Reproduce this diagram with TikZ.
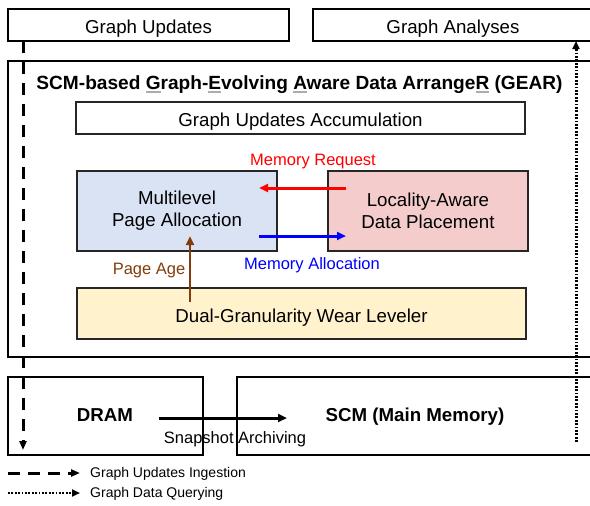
\documentclass[tikz,border=0pt]{standalone}
\usepackage{fontspec}
\setmainfont{Liberation Sans}
\usetikzlibrary{arrows.meta,calc}

\definecolor{mpafill}{HTML}{DAE3F3}
\definecolor{ladfill}{HTML}{F4CCCC}
\definecolor{dgwfill}{HTML}{FFF2CC}
\definecolor{agebrown}{HTML}{843C0C}

% font sizes
\newcommand\boxtext{\fontsize{18.7}{22}\selectfont}
\newcommand\titletext{\fontsize{19.1}{22}\selectfont\bfseries}
\newcommand\lbltext{\fontsize{16.5}{19}\selectfont}
\newcommand\legtext{\fontsize{14}{16}\selectfont}
% grey underline under an initial letter of the acronym
\newcommand\gearul[1]{{\setbox0\hbox{#1}\rlap{\color{gray!65}\rule[-4pt]{\wd0}{1.8pt}}#1}}

\tikzset{
  box/.style={draw=black!85, line width=1.3pt, inner sep=0pt, outer sep=0pt,
              align=center, font=\boxtext, text height=17pt, text depth=0pt},
  twoline/.style={text height=, text depth=},
  frame/.style={box, draw=black, line width=1.8pt},
  bigframe/.style={box, draw=black, line width=2.4pt},
  tip/.style={-{Triangle[length=9pt,width=8pt]}},
  flow/.style={tip, line width=3pt},
  ingest/.style={-{Triangle[length=9pt,width=7pt]}, line width=3pt,
                 dash pattern=on 12pt off 9pt},
  query/.style={-{Triangle[length=8pt,width=7pt]}, line width=3pt,
                dash pattern=on 1.8pt off 1.6pt},
}

\begin{document}
\begin{tikzpicture}[x=1pt,y=-1pt]
\useasboundingbox (0,0) rectangle (590,506);
\clip (0,0) rectangle (590,506);

% top row
\node[frame, minimum width=281pt, minimum height=32pt] (gu) at (148.5,25) {Graph Updates};
\node[frame, minimum width=280pt, minimum height=32pt] (ga) at (453,25) {Graph Analyses};

% GEAR frame
\node[bigframe, minimum width=584pt, minimum height=296pt] (gear) at (300,209) {};
\node[font=\titletext, anchor=base, inner sep=0pt] (title) at (299.5,89)
  {SCM-based \gearul{G}raph-\gearul{E}volving \gearul{A}ware Data Arrange\gearul{R} (GEAR)};

\node[box, minimum width=449pt, minimum height=32pt] (acc) at (300.5,118) {Graph Updates Accumulation};
\node[box, twoline, fill=mpafill, minimum width=200pt, minimum height=80pt] (mpa) at (177,211)
  {Multilevel\\Page Allocation};
\node[box, twoline, fill=ladfill, minimum width=200pt, minimum height=80pt] (lad) at (428,211)
  {Locality-Aware\\Data Placement};
\node[box, fill=dgwfill, minimum width=449pt, minimum height=51pt] (dgw) at (301.5,313.5)
  {Dual-Granularity Wear Leveler};

% memory row
\node[frame, minimum width=195pt, minimum height=78pt] (dram) at (105.5,416) {};
\node[font=\boxtext\bfseries, text height=13.4pt, text depth=0pt] (dramlbl) at (105,415) {DRAM};
\node[frame, minimum width=356pt, minimum height=78pt] (scm) at (415,416) {};
\node[font=\boxtext\bfseries, text height=13.4pt, text depth=0pt] (scmlbl) at (415,415) {SCM (Main Memory)};

% interactions inside GEAR
\coordinate (rqs) at ($(lad.west)+(18pt,23pt)$);
\coordinate (rqe) at ($(mpa.east)+(-18pt,23pt)$);
\coordinate (als) at ($(mpa.east)+(-18pt,-25pt)$);
\coordinate (ale) at ($(lad.west)+(18pt,-25pt)$);
\draw[flow, red] (rqs) -- (rqe);
\draw[flow, blue] (als) -- (ale);
\node[font=\lbltext, text=red] (rqlbl) at (313,162) {Memory Request};
\node[font=\lbltext, text=blue] (allbl) at (312,265) {Memory Allocation};

\coordinate (ages) at ($(dgw.north west)+(113pt,-14pt)$);
\coordinate (agee) at ($(mpa.south west)+(113pt,15pt)$);
\draw[tip, line width=2.4pt, agebrown] (ages) -- (agee);
\node[font=\lbltext, text=agebrown] (agelbl) at (149,271) {Page Age};

% snapshot archiving
\coordinate (sas) at ($(dram.east)+(-44pt,-2pt)$);
\coordinate (sae) at ($(scm.west)+(50pt,-2pt)$);
\draw[flow] (sas) -- (sae);
\node[font=\lbltext] (salbl) at (235,439) {Snapshot Archiving};

% update ingestion and querying paths
\coordinate (ins) at ($(gu.south west)+(15pt,0pt)$);
\coordinate (ine) at ($(dram.south west)+(15pt,5pt)$);
\draw[ingest] (ins) -- (ine);
\coordinate (qs) at ($(scm.south east)+(-17pt,13pt)$);
\coordinate (qe) at ($(ga.south east)+(-17pt,0pt)$);
\draw[query] (qs) -- (qe);

% legend
\coordinate (l1s) at (8,473);
\coordinate (l1e) at (80,473);
\draw[ingest, dash pattern=on 12pt off 8pt] (l1s) -- (l1e);
\node[font=\legtext, anchor=west, inner sep=0pt] (l1) at (90,474) {Graph Updates Ingestion};
\coordinate (l2s) at (8,493);
\coordinate (l2e) at (80,493);
\draw[query, line width=2.4pt] (l2s) -- (l2e);
\node[font=\legtext, anchor=west, inner sep=0pt] (l2) at (90,494) {Graph Data Querying};
\end{tikzpicture}
\end{document}
